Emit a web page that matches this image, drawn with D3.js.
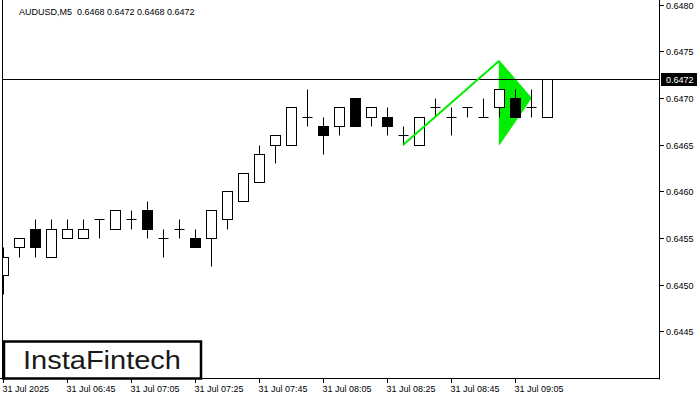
<!DOCTYPE html>
<html>
<head>
<meta charset="utf-8">
<script src="https://cdn.jsdelivr.net/npm/d3@7/dist/d3.min.js"></script>
<style>
  html, body { margin: 0; padding: 0; background: #fff; }
  svg { display: block; }
  text { font-family: "Liberation Sans", Arial, sans-serif; }
</style>
</head>
<body>
<svg id="chart" width="700" height="400"></svg>
<script>
// ---- data ----
const symbolTitle = "AUDUSD,M5";
const times = ["06:25","06:30","06:35","06:40","06:45","06:50","06:55","07:00","07:05","07:10",
               "07:15","07:20","07:25","07:30","07:35","07:40","07:45","07:50","07:55","08:00",
               "08:05","08:10","08:15","08:20","08:25","08:30","08:35","08:40","08:45","08:50",
               "08:55","09:00","09:05","09:10","09:15"];
const open  = [0.6451,0.6454,0.6456,0.6453,0.6455,0.6455,0.6457,0.6456,0.6457,0.6458,
               0.6455,0.6456,0.6455,0.6455,0.6457,0.6459,0.6461,0.6465,0.6465,0.6468,
               0.6467,0.6467,0.6470,0.6468,0.6468,0.6466,0.6465,0.6469,0.6468,0.6469,
               0.6468,0.6469,0.6470,0.6469,0.6468];
const high  = [0.6454,0.6455,0.6457,0.6457,0.6457,0.6457,0.6457,0.6458,0.6458,0.6459,
               0.6456,0.6457,0.6456,0.6458,0.6460,0.6462,0.6465,0.6466,0.6469,0.6471,
               0.6468,0.6469,0.6470,0.6469,0.6469,0.6467,0.6468,0.6470,0.6469,0.6469,
               0.6470,0.6471,0.6471,0.6471,0.6472];
const low   = [0.6449,0.6453,0.6453,0.6453,0.6455,0.6455,0.6455,0.6456,0.6456,0.6455,
               0.6453,0.6455,0.6454,0.6452,0.6456,0.6459,0.6461,0.6463,0.6465,0.6467,
               0.6464,0.6466,0.6467,0.6467,0.6466,0.6465,0.6465,0.6468,0.6466,0.6468,
               0.6468,0.6468,0.6468,0.6468,0.6468];
const close = [0.6453,0.6455,0.6454,0.6456,0.6456,0.6456,0.6457,0.6458,0.6457,0.6456,
               0.6455,0.6456,0.6454,0.6458,0.6460,0.6462,0.6464,0.6466,0.6469,0.6468,
               0.6466,0.6469,0.6467,0.6469,0.6467,0.6466,0.6468,0.6469,0.6468,0.6469,
               0.6468,0.6471,0.6468,0.6469,0.6472];
const timeTickIdx    = [0, 4, 8, 12, 16, 20, 24, 28, 32];
const timeTickLabels = ["31 Jul 2025","31 Jul 06:45","31 Jul 07:05","31 Jul 07:25","31 Jul 07:45",
                        "31 Jul 08:05","31 Jul 08:25","31 Jul 08:45","31 Jul 09:05"];
const priceTicks = [0.6445,0.6450,0.6455,0.6460,0.6465,0.6470,0.6475,0.6480];
const currentPrice = 0.6472;
// bullish pennant pattern
const poleIdx   = [25, 31];
const polePrice = [0.6465, 0.6474];
const flagIdx   = [31, 31, 33];
const flagPrice = [0.6474, 0.6465, 0.6470];

// ---- layout ----
const svg = d3.select("#chart");
const plotL = 3, plotR = 660, plotB = 379;
const x = d3.scaleLinear().domain([0, 40]).range([3.3, 643.3]);
const y = d3.scaleLinear().domain([0.6440, 0.6480]).range([378, 4.67]);
const cx = i => Math.round(x(i));
const cy = p => Math.round(y(p));

svg.append("rect").attr("width", 700).attr("height", 400).attr("fill", "#fff");

const clip = svg.append("defs").append("clipPath").attr("id", "plotclip")
  .append("rect").attr("x", plotL).attr("y", 0).attr("width", plotR - plotL).attr("height", plotB);
const plot = svg.append("g").attr("clip-path", "url(#plotclip)");

// pennant (flag) triangle behind candles
plot.append("path")
  .attr("d", d3.line()(flagIdx.map((k, j) => [x(k), y(flagPrice[j])])) + "Z")
  .attr("fill", "#00ee00").attr("stroke", "#00ee00").attr("stroke-width", 1);

// current price line
plot.append("line")
  .attr("x1", plotL).attr("x2", plotR)
  .attr("y1", cy(currentPrice) + 0.5).attr("y2", cy(currentPrice) + 0.5)
  .attr("stroke", "#000").attr("stroke-width", 1);

// candles
const candles = plot.append("g");
times.forEach((t, i) => {
  const c = cx(i) + 0.5;
  const o = open[i], h = high[i], l = low[i], cl = close[i];
  const g = candles.append("g");
  g.append("line").attr("x1", c).attr("x2", c)
    .attr("y1", cy(h) + 0.5).attr("y2", cy(l) + 0.5)
    .attr("stroke", "#000").attr("stroke-width", 1);
  if (o === cl) {
    g.append("line").attr("x1", c - 5).attr("x2", c + 5)
      .attr("y1", cy(o) + 0.5).attr("y2", cy(o) + 0.5)
      .attr("stroke", "#000").attr("stroke-width", 1);
  } else {
    const top = cy(Math.max(o, cl)), bot = cy(Math.min(o, cl));
    g.append("rect").attr("x", c - 5).attr("y", top + 0.5)
      .attr("width", 10).attr("height", bot - top)
      .attr("fill", cl > o ? "#fff" : "#000")
      .attr("stroke", "#000").attr("stroke-width", 1);
  }
});

// pole line on top
plot.append("path")
  .attr("d", d3.line()(poleIdx.map((k, j) => [x(k), y(polePrice[j])])))
  .attr("fill", "none").attr("stroke", "#00ee00").attr("stroke-width", 2);

// frame
svg.append("line").attr("x1", plotL - 0.5).attr("x2", plotL - 0.5).attr("y1", 0).attr("y2", plotB + 0.5)
  .attr("stroke", "#000").attr("stroke-width", 1);
svg.append("line").attr("x1", plotR - 0.5).attr("x2", plotR - 0.5).attr("y1", 0).attr("y2", plotB + 0.5)
  .attr("stroke", "#000").attr("stroke-width", 1);
svg.append("line").attr("x1", 0).attr("x2", plotR).attr("y1", plotB - 0.5).attr("y2", plotB - 0.5)
  .attr("stroke", "#000").attr("stroke-width", 1);

// price axis
const pa = svg.append("g");
priceTicks.forEach(p => {
  const yy = cy(p) + 0.5;
  pa.append("line").attr("x1", plotR).attr("x2", plotR + 4).attr("y1", yy).attr("y2", yy)
    .attr("stroke", "#000").attr("stroke-width", 1);
  pa.append("text").attr("x", plotR + 6).attr("y", yy).attr("dy", "0.35em")
    .attr("font-size", 9).attr("fill", "#000").text(d3.format(".4f")(p));
});
// current price box
const cpy = cy(currentPrice) + 0.5;
pa.append("rect").attr("x", plotR + 1).attr("y", cpy - 6.5).attr("width", 36).attr("height", 13).attr("fill", "#000");
pa.append("text").attr("x", plotR + 6).attr("y", cpy).attr("dy", "0.35em")
  .attr("font-size", 9).attr("fill", "#fff").text(d3.format(".4f")(currentPrice));

// time axis
const ta = svg.append("g");
timeTickIdx.forEach((k, j) => {
  const xx = cx(k) + 0.5;
  ta.append("line").attr("x1", xx).attr("x2", xx).attr("y1", plotB).attr("y2", plotB + 4)
    .attr("stroke", "#000").attr("stroke-width", 1);
  ta.append("text").attr("x", xx - 1).attr("y", 392)
    .attr("font-size", 9).attr("fill", "#000").text(timeTickLabels[j]);
});

// header
svg.append("text").attr("x", 19).attr("y", 15).attr("font-size", 9).attr("fill", "#000")
  .attr("xml:space", "preserve")
  .text(symbolTitle + "  " + [open[34], high[34], low[34], close[34]].map(d3.format(".4f")).join(" "));

// logo
svg.append("rect").attr("x", 4).attr("y", 341.5).attr("width", 197).attr("height", 37)
  .attr("fill", "#fff").attr("stroke", "#000").attr("stroke-width", 2.5);
svg.append("text").attr("x", 23).attr("y", 368.5)
  .attr("font-family", "Inter, Lato, sans-serif").attr("font-weight", 500)
  .attr("font-size", 25).attr("fill", "#1a1a1a")
  .attr("textLength", 158).attr("lengthAdjust", "spacingAndGlyphs")
  .text("InstaFintech");
</script>
</body>
</html>
